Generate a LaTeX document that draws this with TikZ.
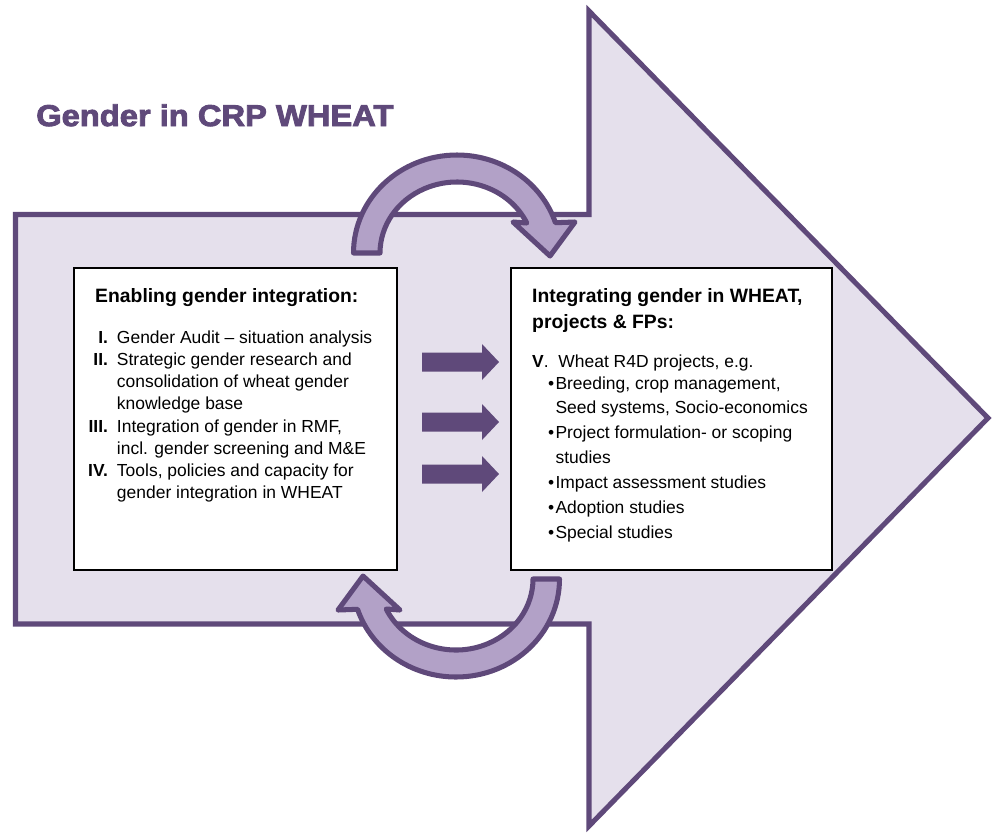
\documentclass[tikz,border=0pt]{standalone}
\usepackage{fontspec}
\setmainfont{Liberation Sans}
\newfontfamily\titlefont[FakeStretch=1.09,FakeBold=3]{Liberation Sans}
\usepackage{xcolor}
\usepackage{tikz}

\definecolor{wheatdark}{HTML}{5F497A}
\definecolor{wheatpale}{HTML}{E5E0EC}
\definecolor{wheatmid}{HTML}{B2A1C7}

% curved arrow, origin at the centre of its arc
\tikzset{
    turnarrow/.pic={
        \draw[turnfill] (-103.5,0) arc[start angle=180, end angle=342, x radius=103.5, y radius=98]
            -- (118,-31) -- (93,3) -- (56,-31) -- (69.8,-30)
            arc[start angle=335, end angle=180, x radius=77, y radius=71] -- cycle;
    }
}

\begin{document}
\begin{tikzpicture}[x=0.03cm, y=-0.03cm,
        every node/.style={inner sep=0pt},
        bigarrow/.style={draw=wheatdark, fill=wheatpale, line width=4.3pt},
        turnfill/.style={draw=wheatdark, fill=wheatmid, line width=4.3pt, line join=round},
        panel/.style={rectangle, draw=black, fill=white, line width=1pt},
        heading/.style={anchor=base west, font=\bfseries\fontsize{16.5}{23}\selectfont},
        listtext/.style={anchor=base west, font=\fontsize{14.9}{19}\selectfont}]
    \useasboundingbox (0,0) rectangle (992,832);

    % the large arrow in the background
    \draw[bigarrow] (15.5,214.5) -- (589,214.5) -- (589,11) -- (988,418)
        -- (589,826) -- (589,624) -- (15.5,624) -- cycle;

    \node[anchor=base west, text=wheatdark] (title) at (36,126)
        {\titlefont\bfseries\fontsize{25.6}{30}\selectfont Gender in CRP WHEAT};

    % the two turning arrows
    \pic at (457,253) {turnarrow};
    \pic[rotate=180] at (456,579) {turnarrow};

    % boxes
    \node[panel, minimum width=9.69cm, minimum height=9.06cm] (enabling) at (235.5,419) {};
    \node[panel, minimum width=9.63cm, minimum height=9.06cm] (integrating) at (671.5,419) {};

    \node[heading] (lhead) at (95,302) {Enabling gender integration:};
    \node[listtext] (llist) at (88,343) {%
        \begin{tabular}[t]{@{}r@{\hspace{7.7pt}}l@{}}
            \textbf{I.} & Gender Audit -- situation analysis\\
            \textbf{II.} & Strategic gender research and\\
             & consolidation of wheat gender\\
             & knowledge base\\
            \textbf{III.} & Integration of gender in RMF,\\
             & incl. gender screening and M\&E\\
            \textbf{IV.} & Tools, policies and capacity for\\
             & gender integration in WHEAT
        \end{tabular}};

    \node[heading] (rhead) at (532,302) {%
        \begin{tabular}[t]{@{}l@{}}
            Integrating gender in WHEAT,\\
            projects \& FPs:
        \end{tabular}};
    \node[listtext] (rfive) at (532,367) {\textbf{V}.\ \ Wheat R4D projects, e.g.};
    \node[listtext, font=\fontsize{14.9}{21.2}\selectfont] (rlist) at (548,389) {%
        \begin{tabular}[t]{@{}l@{\hspace{1pt}}l@{}}
            \textbullet & Breeding, crop management,\\
             & Seed systems, Socio-economics\\
            \textbullet & Project formulation- or scoping\\
             & studies\\
            \textbullet & Impact assessment studies\\
            \textbullet & Adoption studies\\
            \textbullet & Special studies
        \end{tabular}};

    % arrows between the boxes
    \foreach \y in {362,422,474}
        \fill[wheatdark] (422,\y-9.5) -- (482,\y-9.5) -- (482,\y-18) -- (499,\y)
            -- (482,\y+18) -- (482,\y+9.5) -- (422,\y+9.5) -- cycle;
\end{tikzpicture}
\end{document}
